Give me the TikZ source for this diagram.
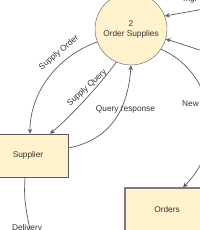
\documentclass[tikz,border=0pt]{standalone}
\usepackage{fontspec}
\setmainfont{Liberation Sans}
\usetikzlibrary{arrows.meta,calc,positioning}
\definecolor{Cream}{HTML}{FFF2CC}
\definecolor{Edge}{HTML}{5A5A5A}
\definecolor{Ink}{HTML}{333333}

\begin{document}
\begin{tikzpicture}[x=1pt,y=-1pt,font=\fontsize{8.3}{10}\selectfont,>={Stealth[length=5pt,width=4.5pt]},
    proc/.style={circle,draw=Edge,fill=Cream,minimum size=72pt,inner sep=0pt,align=center,text=Ink},
    store/.style={rectangle,draw=Edge,fill=Cream,minimum height=43pt,text=Ink},
    flow/.style={draw=Edge,line width=0.7pt},
    lbl/.style={text=Ink,inner sep=0pt}]
    \useasboundingbox (0,0) rectangle (200,230);
    \clip (0,0) rectangle (200,230);
    \node[proc] (supplies) at (131,29) {2\\Order Supplies};
    \node[store,minimum width=80pt] (supplier) at (28,155.5) {Supplier};
    \node[store,minimum width=84pt,line width=1.2pt,draw=Edge!80] (orders) at (167,209.5) {Orders};
    \coordinate (ingIn) at (215,7);
    \coordinate (ordIn) at (215,55);
    \coordinate (dlvOut) at (33,245);
    % flows round the process
    \draw[flow,->] (supplies.201) .. controls (60,55) and (30,90) .. ([xshift=2pt]supplier.north);
    \draw[flow,->] (supplies.246) .. controls (100,85) and (70,117) .. ([xshift=22pt]supplier.north);
    \draw[flow,->] ([yshift=7.5pt]supplier.east) .. controls (110,140) and (128,110) .. (supplies.south);
    \draw[flow,->] (supplies.326) .. controls (210,70) and (230,140) .. ([xshift=16pt]orders.north);
    \draw[flow,->] (ingIn) -- (supplies.21);
    \draw[flow,->] (ordIn) -- (supplies.344);
    \draw[flow] ([xshift=-3pt]supplier.south) .. controls (24,200) .. (dlvOut);
    % labels
    \node[lbl,rotate=40] (soLbl) at (59,53) {Supply Order};
    \node[lbl,rotate=43] (sqLbl) at (87,88) {Supply Query};
    \node[lbl] (qrLbl) at (125.5,109) {Query response};
    \node[lbl,anchor=west] (newLbl) at (182,104) {New};
    \node[lbl,anchor=north] (dlvLbl) at (27,224) {Delivery};
    \node[lbl,anchor=base west] (ingLbl) at (183,2) {Ingr};
\end{tikzpicture}
\end{document}
